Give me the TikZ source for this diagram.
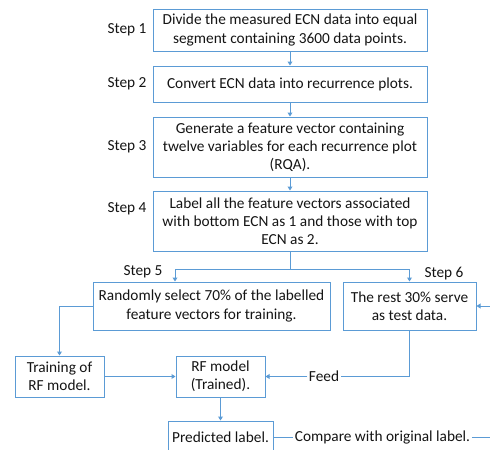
\documentclass[tikz,border=0pt]{standalone}
\usepackage{fontspec}
\setmainfont{Carlito}
\usepackage{tikz}
\usetikzlibrary{arrows.meta,calc,positioning}
\definecolor{lineblue}{RGB}{91,155,213}
\definecolor{inkgray}{RGB}{20,20,20}
\tikzset{
  stepbox/.style={draw=lineblue, line width=0.75pt, align=center, inner sep=2pt, font=\fontsize{11.5}{13.6}\selectfont, text=inkgray},
  steplabel/.style={font=\fontsize{11.5}{13.6}\selectfont, text=inkgray, inner sep=1pt},
  midlabel/.style={font=\fontsize{11.5}{13.6}\selectfont, text=inkgray, fill=white, inner sep=1pt},
  arrow/.style={-{Triangle[length=3pt,width=3.6pt]}, draw=lineblue, line width=0.75pt},
  link/.style={draw=lineblue, line width=0.75pt}
}

\begin{document}
\begin{tikzpicture}[x=0.75pt, y=-0.75pt]
  \useasboundingbox (0,0) rectangle (490,450);

  \node[stepbox, minimum width=274*0.75pt, minimum height=42*0.75pt] (divide) at (290,30) {Divide the measured ECN data into equal\\segment containing 3600 data points.};
  \node[stepbox, minimum width=274*0.75pt, minimum height=36*0.75pt] (convert) at (290,84) {Convert ECN data into recurrence plots.};
  \node[stepbox, minimum width=274*0.75pt, minimum height=60*0.75pt] (features) at (290,147) {Generate a feature vector containing\\twelve variables for each recurrence plot\\(RQA).};
  \node[stepbox, minimum width=274*0.75pt, minimum height=60*0.75pt] (labelling) at (290,221) {Label all the feature vectors associated\\with bottom ECN as 1 and those with top\\ECN as 2.};
  \node[stepbox, minimum width=237*0.75pt, minimum height=48*0.75pt] (trainset) at (211.5,306) {Randomly select 70\% of the labelled\\feature vectors for training.};
  \node[stepbox, minimum width=133*0.75pt, minimum height=48*0.75pt] (testset) at (409.5,306) {The rest 30\% serve\\as test data.};
  \node[stepbox, minimum width=89*0.75pt, minimum height=41*0.75pt] (training) at (59.5,376.5) {Training of\\RF model.};
  \node[stepbox, minimum width=89*0.75pt, minimum height=41*0.75pt] (rfmodel) at (220.5,376.5) {RF model\\(Trained).};
  \node[stepbox, minimum width=105*0.75pt, minimum height=32*0.75pt] (predicted) at (220.5,437) {Predicted label.};

  \node[steplabel] (stepa) at (127,30) {Step 1};
  \node[steplabel] (stepb) at (127,84) {Step 2};
  \node[steplabel] (stepc) at (127,147) {Step 3};
  \node[steplabel] (stepd) at (127,209) {Step 4};
  \node[steplabel] (stepe) at (143,272) {Step 5};
  \node[steplabel] (stepf) at (444,274) {Step 6};

  \node[midlabel] (feed) at (324,376.5) {Feed};
  \node[midlabel] (compare) at (382.5,437) {Compare with original label.};

  \coordinate (split) at (290,269);
  \coordinate (leftdrop) at (175,269);
  \coordinate (loopback) at (515,437);

  \draw[arrow] (divide) -- (convert);
  \draw[arrow] (convert) -- (features);
  \draw[arrow] (features) -- (labelling);
  \draw[link] (labelling.south) -- (split);
  \draw[arrow] (split) -- (leftdrop) -- (leftdrop |- trainset.north);
  \draw[arrow] (split) -| (testset.north);
  \draw[arrow] (trainset.west) -| (training.north);
  \draw[arrow] (training) -- (rfmodel);
  \draw[link] (testset.south) |- (feed.east);
  \draw[arrow] (feed.west) -- (rfmodel.east);
  \draw[arrow] (rfmodel) -- (predicted);
  \draw[link] (predicted.east) -- (compare.west);
  \draw[arrow] (compare.east) -- (loopback) |- (testset.east);
\end{tikzpicture}
\end{document}
